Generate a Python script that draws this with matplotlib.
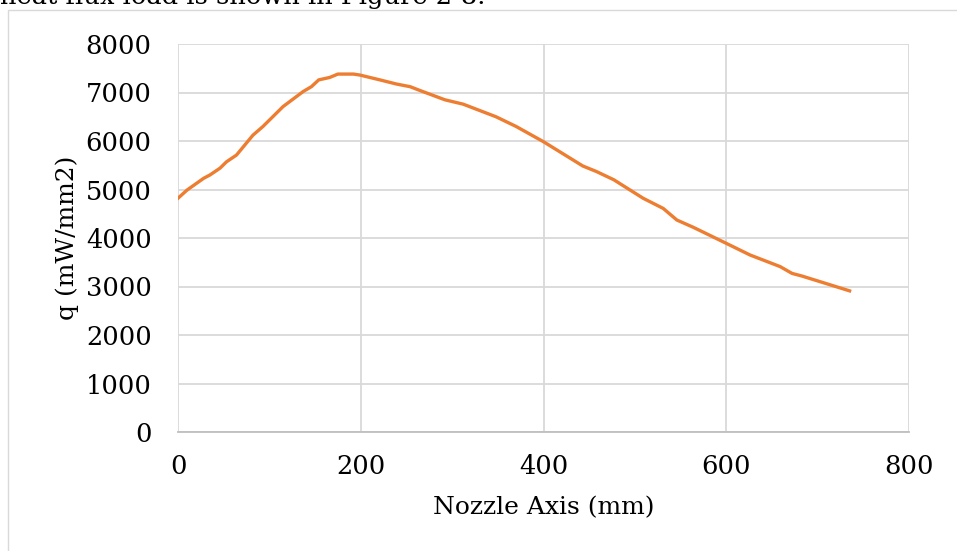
import matplotlib
matplotlib.use('Agg')
import matplotlib.pyplot as plt
from matplotlib.patches import Rectangle

# 読み取った値 (Nozzle Axis mm, q mW/mm2)
nozzle_axis = [0, 10, 28, 35, 46, 53, 64, 82, 93, 115, 137, 146, 154, 166, 175,
               192, 199, 221, 239, 254, 265, 292, 312, 348, 370, 400, 443, 458,
               477, 509, 531, 546, 564, 600, 626, 659, 672, 683, 735]
heat_flux = [4820, 4990, 5230, 5300, 5440, 5570, 5710, 6120, 6300, 6710, 7020,
             7120, 7260, 7310, 7380, 7380, 7360, 7260, 7175, 7120, 7040, 6850,
             6760, 6500, 6300, 5985, 5485, 5370, 5200, 4820, 4610, 4370, 4220,
             3890, 3650, 3410, 3270, 3215, 2910]
x_ticks = [0, 200, 400, 600, 800]
y_ticks = [0, 1000, 2000, 3000, 4000, 5000, 6000, 7000, 8000]
caption = "heat flux load is shown in Figure 2-8."

plt.rcParams['font.family'] = ['DejaVu Serif']

W, H = 957, 551
fig = plt.figure(figsize=(W / 100, H / 100), dpi=100)

# 周りの枠
fig.patches.append(Rectangle((8 / W, -0.1), 1.2, (H - 10) / H + 0.1,
                             transform=fig.transFigure, fill=False,
                             edgecolor='#d9d9d9', linewidth=1))
# 上の切れた本文
fig.text(0.0, 1 - 4 / H, caption, fontsize=18.5, va='baseline', ha='left')

ax = fig.add_axes([178 / W, (H - 432) / H, (909 - 178) / W, (432 - 44) / H])
ax.plot(nozzle_axis, heat_flux, color='#ED7D31', linewidth=2.4, zorder=3)

ax.set_xlim(0, 800)
ax.set_ylim(0, 8000)
ax.set_xticks(x_ticks)
ax.set_yticks(y_ticks)
ax.grid(True, color='#d9d9d9', linewidth=1.3)
ax.set_axisbelow(True)
for s in ['top', 'right', 'left']:
    ax.spines[s].set_visible(False)
ax.spines['bottom'].set_color('#bfbfbf')
ax.spines['bottom'].set_linewidth(1.3)
ax.tick_params(length=0, labelsize=18.5)
ax.tick_params(axis='y', pad=19)
ax.tick_params(axis='x', pad=16)
ax.set_xlabel('Nozzle Axis (mm)', fontsize=18, labelpad=12)
ax.set_ylabel('q (mW/mm2)', fontsize=18, labelpad=5)

fig.savefig('out.png', dpi=100)
